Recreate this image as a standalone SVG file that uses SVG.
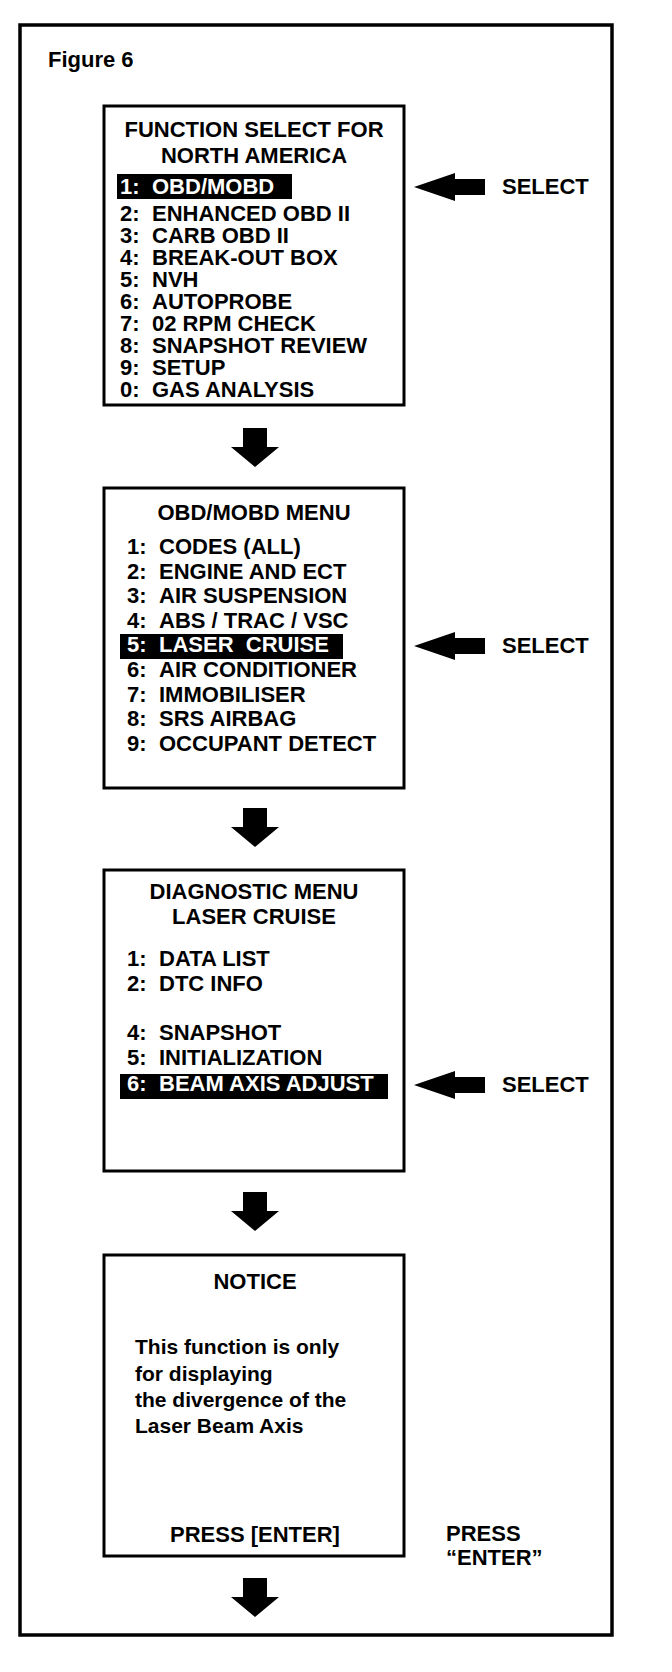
<svg xmlns="http://www.w3.org/2000/svg" width="672" height="1672" viewBox="0 0 672 1672">
<style>
.t{font-family:"Liberation Sans",Arial,sans-serif;font-weight:bold;font-size:22px;fill:#000;white-space:pre}
.b{font-size:21px}
.c{text-anchor:middle}
.w{fill:#fff}
.box{fill:#fff;stroke:#000;stroke-width:3}
.frame{fill:#fff;stroke:#000;stroke-width:3.5}
.hl{fill:#000}
.ar{fill:#000}
</style>
<defs>
<path id="down" d="M-12,0 H12 V19 H24 L0,39 L-24,19 H-12 Z"/>
<path id="left" d="M0,0 L41,-14 V-8 H71 V8 H41 V14 Z"/>
</defs>
<rect width="672" height="1672" fill="#fff"/>
<rect class="frame" x="20" y="25" width="592" height="1610"/>
<text class="t" x="48" y="67">Figure 6</text>

<g id="box1">
<rect class="box" x="104" y="106" width="300" height="299"/>
<text class="t c" x="254" y="137">FUNCTION SELECT FOR</text>
<text class="t c" x="254" y="163">NORTH AMERICA</text>
<rect class="hl" x="117" y="174" width="175" height="25"/>
<text class="t w" x="120" y="194">1:</text><text class="t w" x="152" y="194">OBD/MOBD</text>
<text class="t" x="120" y="221">2:</text><text class="t" x="152" y="221">ENHANCED OBD II</text>
<text class="t" x="120" y="243">3:</text><text class="t" x="152" y="243">CARB OBD II</text>
<text class="t" x="120" y="265">4:</text><text class="t" x="152" y="265">BREAK-OUT BOX</text>
<text class="t" x="120" y="287">5:</text><text class="t" x="152" y="287">NVH</text>
<text class="t" x="120" y="309">6:</text><text class="t" x="152" y="309">AUTOPROBE</text>
<text class="t" x="120" y="331">7:</text><text class="t" x="152" y="331">02 RPM CHECK</text>
<text class="t" x="120" y="353">8:</text><text class="t" x="152" y="353">SNAPSHOT REVIEW</text>
<text class="t" x="120" y="375">9:</text><text class="t" x="152" y="375">SETUP</text>
<text class="t" x="120" y="397">0:</text><text class="t" x="152" y="397">GAS ANALYSIS</text>
</g>

<g id="box2">
<rect class="box" x="104" y="488" width="300" height="300"/>
<text class="t c" x="254" y="520">OBD/MOBD MENU</text>
<text class="t" x="127" y="554">1:</text><text class="t" x="159" y="554">CODES (ALL)</text>
<text class="t" x="127" y="578.6">2:</text><text class="t" x="159" y="578.6">ENGINE AND ECT</text>
<text class="t" x="127" y="603.2">3:</text><text class="t" x="159" y="603.2">AIR SUSPENSION</text>
<text class="t" x="127" y="627.8">4:</text><text class="t" x="159" y="627.8">ABS / TRAC / VSC</text>
<rect class="hl" x="120" y="634" width="223" height="25"/>
<text class="t w" x="127" y="652.4">5:</text><text class="t w" x="159" y="652.4">LASER  CRUISE</text>
<text class="t" x="127" y="677">6:</text><text class="t" x="159" y="677">AIR CONDITIONER</text>
<text class="t" x="127" y="701.6">7:</text><text class="t" x="159" y="701.6">IMMOBILISER</text>
<text class="t" x="127" y="726.2">8:</text><text class="t" x="159" y="726.2">SRS AIRBAG</text>
<text class="t" x="127" y="750.8">9:</text><text class="t" x="159" y="750.8">OCCUPANT DETECT</text>
</g>

<g id="box3">
<rect class="box" x="104" y="870" width="300" height="301"/>
<text class="t c" x="254" y="899">DIAGNOSTIC MENU</text>
<text class="t c" x="254" y="924">LASER CRUISE</text>
<text class="t" x="127" y="966">1:</text><text class="t" x="159" y="966">DATA LIST</text>
<text class="t" x="127" y="991">2:</text><text class="t" x="159" y="991">DTC INFO</text>
<text class="t" x="127" y="1040">4:</text><text class="t" x="159" y="1040">SNAPSHOT</text>
<text class="t" x="127" y="1065">5:</text><text class="t" x="159" y="1065">INITIALIZATION</text>
<rect class="hl" x="120" y="1074" width="268" height="25"/>
<text class="t w" x="127" y="1091">6:</text><text class="t w" x="159" y="1091">BEAM AXIS ADJUST</text>
</g>

<g id="box4">
<rect class="box" x="104" y="1255" width="300" height="301"/>
<text class="t c" x="255" y="1289">NOTICE</text>
<text class="t b" x="135" y="1354">This function is only</text>
<text class="t b" x="135" y="1381">for displaying</text>
<text class="t b" x="135" y="1407">the divergence of the</text>
<text class="t b" x="135" y="1433">Laser Beam Axis</text>
<text class="t c" x="255" y="1542">PRESS [ENTER]</text>
</g>

<g id="labels">
<text class="t" x="502" y="194">SELECT</text>
<text class="t" x="502" y="653">SELECT</text>
<text class="t" x="502" y="1092">SELECT</text>
<text class="t" x="446" y="1541">PRESS</text>
<text class="t" x="446" y="1565">“ENTER”</text>
</g>

<g id="connectors" class="ar">
<use href="#down" x="255" y="428"/>
<use href="#down" x="255" y="808"/>
<use href="#down" x="255" y="1192"/>
<use href="#down" x="255" y="1578"/>
<use href="#left" x="414" y="187"/>
<use href="#left" x="414" y="646"/>
<use href="#left" x="414" y="1085"/>
</g>
</svg>
